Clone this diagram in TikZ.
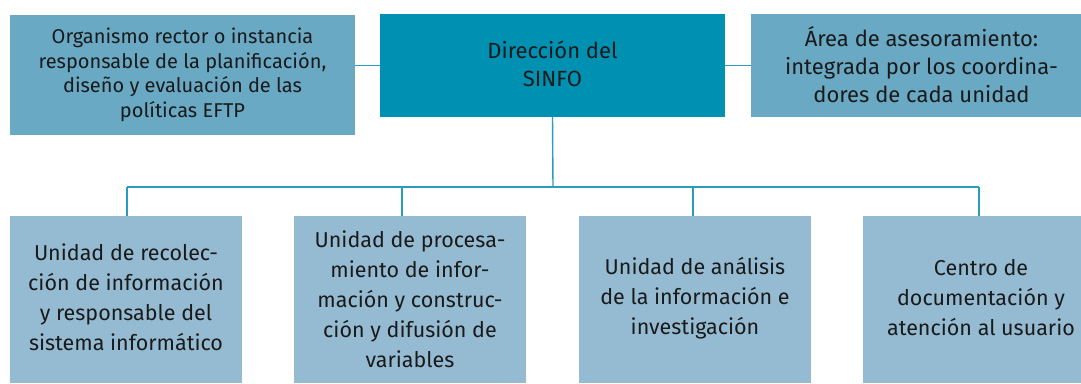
\documentclass[tikz,border=0pt]{standalone}
\usepackage{fontspec}
\setmainfont{Fira Sans}
\definecolor{cdir}{HTML}{0090B2}
\definecolor{cside}{HTML}{6AA9C4}
\definecolor{cunit}{HTML}{95BBD2}
\definecolor{cline}{HTML}{2A9CC0}
\definecolor{ctext}{HTML}{1A1A1A}
\tikzset{
  box/.style={rectangle, inner sep=0pt, align=center, text=ctext},
  topbox/.style={box, font=\fontsize{20}{24.5}\selectfont},
  bigtext/.style={box, font=\fontsize{22}{28}\selectfont},
  unittext/.style={box, font=\fontsize{21.5}{30}\selectfont},
  unitbox/.style={box, fill=cunit, minimum width=232pt, minimum height=167pt},
  link/.style={draw=cline, line width=1.4pt}
}
\begin{document}
\begin{tikzpicture}[x=1pt,y=-1pt]
\useasboundingbox (0,0) rectangle (1081,383);
% top row
\node[box, fill=cside, minimum width=345pt, minimum height=120pt] (org) at (182.5,75) {};
\node[topbox] (orgt) at (182.5,75) {Organismo rector o instancia\\responsable de la planificación,\\diseño y evaluación de las\\políticas EFTP};
\node[box, fill=cdir, minimum width=345pt, minimum height=103pt] (dir) at (552.5,65.5) {};
\node[bigtext] (dirt) at (552.5,63.5) {Dirección del\\SINFO};
\node[box, fill=cside, minimum width=341pt, minimum height=103pt] (area) at (921.5,65.5) {};
\node[bigtext] (areat) at (921.5,65) {Área de asesoramiento:\\integrada por los coordina-\\dores de cada unidad};
% bottom row
\node[unitbox] (u1) at (126,299.5) {};
\node[unittext] (u1t) at (126,297) {Unidad de recolec-\\ción de información\\y responsable del\\sistema informático};
\node[unitbox] (u2) at (410,299.5) {};
\node[unittext] (u2t) at (410,299) {Unidad de procesa-\\miento de infor-\\mación y construc-\\ción y difusión de\\variables};
\node[unitbox] (u3) at (695,299.5) {};
\node[unittext] (u3t) at (695,298) {Unidad de análisis\\de la información e\\investigación};
\node[unitbox] (u4) at (979,299.5) {};
\node[unittext] (u4t) at (981,298) {Centro de\\documentación y\\atención al usuario};
% connectors
\coordinate (bus) at (553,187);
\coordinate (d1) at (127,187);
\coordinate (d2) at (402,187);
\coordinate (d3) at (693,187);
\coordinate (d4) at (979,187);
\draw[link] (org.east |- dir.west) -- (dir.west);
\draw[link] (dir.east) -- (dir.east -| area.west);
\draw[link] (dir.south) -- (bus);
\draw[link] (d1) -- (d4);
\draw[link] (d1) -- (d1 |- u1.north);
\draw[link] (d2) -- (d2 |- u2.north);
\draw[link] (d3) -- (d3 |- u3.north);
\draw[link] (d4) -- (d4 |- u4.north);
\end{tikzpicture}
\end{document}
